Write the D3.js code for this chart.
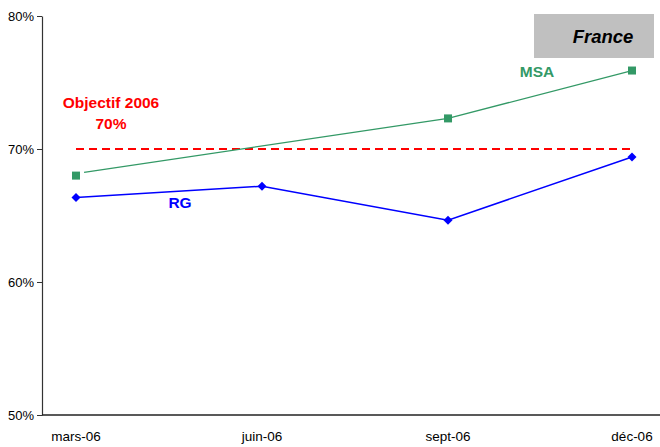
<!DOCTYPE html>
<html><head><meta charset="utf-8">
<script src="https://cdn.jsdelivr.net/npm/d3@7"></script>
<style>body{margin:0;background:#fff}svg{display:block;font-family:"Liberation Sans",Arial,sans-serif}</style>
</head><body><svg id="c" width="660" height="447"></svg>
<script>
const categories = ["2006-03-01","2006-06-01","2006-09-01","2006-12-01"];
const categoryLabels = ["mars-06","juin-06","sept-06","déc-06"];
const rgValues = [66.35, 67.2, 64.65, 69.4];
const msaMarkerDates = ["2006-03-01","2006-09-01","2006-12-01"];
const msaMarkerValues = [68.0, 72.3, 75.9];
const msaLineDates = ["2006-03-05","2006-09-01","2006-12-01"];
const msaLineValues = [68.25, 72.3, 75.9];
const objectif = 70;
const yTicks = [50, 60, 70, 80];

const parse = d3.timeParse("%Y-%m-%d");
const svg = d3.select("#c");
const m = {l:42, r:0, t:16, b:32};
const W = 660, H = 447;
const x = d3.scaleTime().domain([parse("2006-03-01"), parse("2006-12-01")]).range([76, 632]);
const y = d3.scaleLinear().domain([50, 80]).range([H - m.b, m.t]);

// axes
const yAxis = d3.axisLeft(y).tickValues(yTicks).tickFormat(d => d + "%").tickSize(5).tickSizeOuter(0);
const gy = svg.append("g").attr("transform", `translate(${m.l},0)`).call(yAxis);
gy.select(".domain").attr("stroke", "#333").attr("stroke-width", 1.2);
gy.selectAll(".tick line").attr("stroke", "#333");
gy.selectAll(".tick text").attr("font-size", 13).attr("fill", "#000").attr("x", -8).attr("font-family", "Liberation Sans, Arial, sans-serif");

svg.append("line").attr("x1", m.l).attr("x2", W).attr("y1", y(50)).attr("y2", y(50)).attr("stroke", "#222").attr("stroke-width", 1.3);

svg.append("g").selectAll("text").data(categories).join("text")
  .attr("x", d => x(parse(d))).attr("y", 441).attr("text-anchor", "middle")
  .attr("font-size", 13.5).attr("fill", "#000").text((d, i) => categoryLabels[i]);

// objective line
svg.append("line").attr("x1", x(parse(categories[0]))).attr("x2", x(parse(categories[3])))
  .attr("y1", y(objectif)).attr("y2", y(objectif))
  .attr("stroke", "#ff0000").attr("stroke-width", 2).attr("stroke-dasharray", "8,5");

// MSA line
const msaLinePts = msaLineDates.map((d, i) => [x(parse(d)), y(msaLineValues[i])]);
svg.append("path").attr("d", d3.line()(msaLinePts)).attr("fill", "none").attr("stroke", "#339966").attr("stroke-width", 1.3);
svg.append("g").selectAll("rect").data(msaMarkerDates).join("rect")
  .attr("x", d => x(parse(d)) - 4).attr("y", (d, i) => y(msaMarkerValues[i]) - 4)
  .attr("width", 8).attr("height", 8).attr("fill", "#339966");

// RG line
const rgPts = categories.map((d, i) => [x(parse(d)), y(rgValues[i])]);
svg.append("path").attr("d", d3.line()(rgPts)).attr("fill", "none").attr("stroke", "#0000ff").attr("stroke-width", 1.5);
svg.append("g").selectAll("path").data(rgPts).join("path")
  .attr("d", d => `M${d[0]},${d[1]-4.5}L${d[0]+4.5},${d[1]}L${d[0]},${d[1]+4.5}L${d[0]-4.5},${d[1]}Z`)
  .attr("fill", "#0000ff");

// labels
svg.append("text").attr("x", 111).attr("y", 108).attr("text-anchor", "middle").attr("font-size", 15.5).attr("font-weight", "bold").attr("fill", "#ff0000").text("Objectif 2006");
svg.append("text").attr("x", 111).attr("y", 129).attr("text-anchor", "middle").attr("font-size", 15.5).attr("font-weight", "bold").attr("fill", "#ff0000").text("70%");
svg.append("text").attr("x", 180).attr("y", 208).attr("text-anchor", "middle").attr("font-size", 15.5).attr("font-weight", "bold").attr("fill", "#0000ff").text("RG");
svg.append("text").attr("x", 537).attr("y", 77).attr("text-anchor", "middle").attr("font-size", 15.5).attr("font-weight", "bold").attr("fill", "#339966").text("MSA");

// France box
svg.append("rect").attr("x", 534).attr("y", 14).attr("width", 120).attr("height", 44).attr("fill", "#c0c0c0");
svg.append("text").attr("x", 603).attr("y", 43).attr("text-anchor", "middle").attr("font-size", 18.5).attr("font-weight", "bold").attr("font-style", "italic").attr("fill", "#000").text("France");
</script></body></html>
